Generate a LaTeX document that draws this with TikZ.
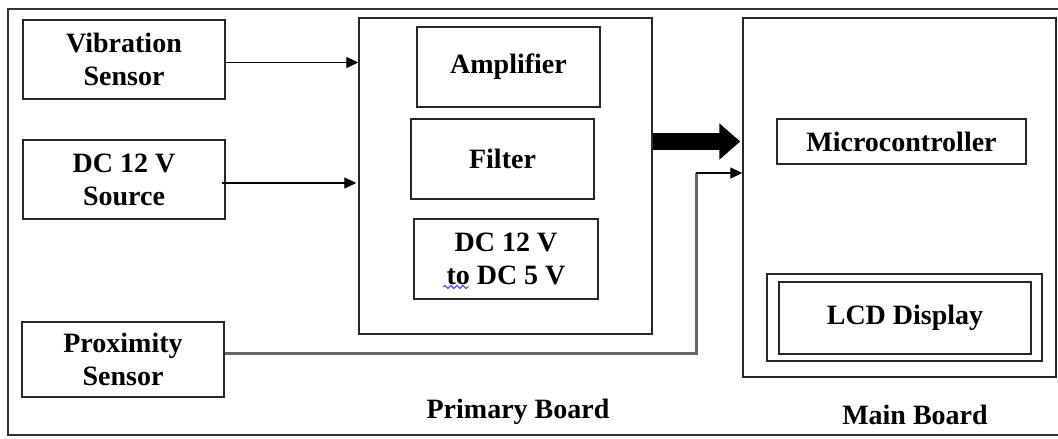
\documentclass[tikz,border=0pt]{standalone}
\usepackage{fontspec}
\setmainfont{Liberation Serif}
\usetikzlibrary{arrows.meta,decorations.pathmorphing}

\tikzset{
  box/.style={draw=black!85, line width=1.4pt, rectangle, inner sep=0pt,
              align=center, font=\bfseries\fontsize{28}{33}\selectfont},
  lbl/.style={inner sep=0pt, align=center, font=\bfseries\fontsize{28}{33}\selectfont},
  sig/.style={line width=1.3pt, -{Triangle[length=12pt 0,width=11pt 0]}},
  bus/.style={line width=17pt, -{Triangle[length=21pt 0,width=35pt 0]}},
  graywire/.style={draw=black!60, line width=3pt},
}

\begin{document}
\begin{tikzpicture}[x=1pt, y=-1pt]
  \useasboundingbox (0,0) rectangle (1058,439);
  \clip (0,0) rectangle (1058,439);

  % outer frame (its right side runs off the page)
  \draw[black!80, line width=1.5pt] (8,9) rectangle (1066,435);

  % sources
  \node[box, minimum width=202pt, minimum height=79pt] (vib)  at (124,59.5)  {Vibration\\Sensor};
  \node[box, minimum width=202pt, minimum height=79pt] (dcs)  at (124,179.5) {DC 12 V\\Source};
  \node[box, minimum width=202pt, minimum height=75pt] (prox) at (123,359.5) {Proximity\\Sensor};

  % primary board
  \node[box, minimum width=293pt, minimum height=316pt] (primary) at (505.5,176) {};
  \node[box, minimum width=183pt, minimum height=80pt] (amp)  at (508.5,67) {Amplifier};
  \node[box, minimum width=183pt, minimum height=80pt] (filt) at (502.5,159) {Filter};
  \node[box, minimum width=184pt, minimum height=80pt] (conv) at (506,259) {DC 12 V\\to DC 5 V};
  \draw[blue!75, line width=0.9pt, decorate,
        decoration={snake, amplitude=1.5pt, segment length=6pt}] (443,287) -- (469,287);
  \node[lbl] (plabel) at (518,411.5) {Primary Board};

  % main board
  \node[box, minimum width=313pt, minimum height=359pt] (main) at (899.5,197.5) {};
  \node[box, minimum width=249pt, minimum height=45pt] (mcu)  at (901.5,141.5) {Microcontroller};
  \node[box, minimum width=275pt, minimum height=87pt] (lcdo) at (904.5,317.5) {};
  \node[box, minimum width=252pt, minimum height=72pt] (lcdi) at (905,318) {LCD Display};
  \node[lbl] (mlabel) at (915,414.5) {Main Board};

  % connectors
  \draw[sig] ([yshift=-3pt]vib.east) -- ([yshift=-3pt]primary.west |- vib.east);
  \draw[sig] ([xshift=-4pt,yshift=-3.5pt]dcs.east) -- ([xshift=-2pt,yshift=-3.5pt]primary.west |- dcs.east);
  \draw[bus] ([xshift=0.6pt]primary.east |- mcu.west) -- ([xshift=-2pt]main.west |- mcu.west);

  \coordinate (bend) at (696,173);
  \draw[graywire] ([yshift=6.5pt]prox.east) -| (bend);
  \draw[sig] (bend) -- (main.west |- bend);
\end{tikzpicture}
\end{document}
